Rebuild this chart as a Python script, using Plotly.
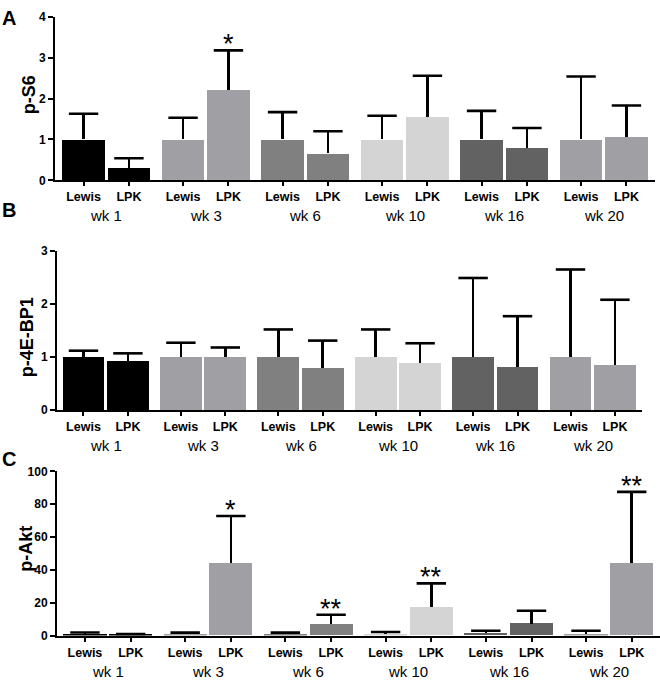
import plotly.graph_objects as go

W, H = 660, 687
FONT = "Liberation Sans, Arial, sans-serif"

weeks = ["wk 1", "wk 3", "wk 6", "wk 10", "wk 16", "wk 20"]
strains = ["Lewis", "LPK"]
week_colors = ["#000000", "#a0a0a4", "#808080", "#d4d4d4", "#626262", "#a0a0a4"]

# Panel A: p-S6 (mean, upper SEM)
ps6_lewis = [1.0, 1.0, 1.0, 1.0, 1.0, 1.0]
ps6_lewis_err = [0.63, 0.53, 0.67, 0.58, 0.70, 1.54]
ps6_lpk = [0.30, 2.22, 0.66, 1.56, 0.79, 1.06]
ps6_lpk_err = [0.24, 0.96, 0.54, 1.00, 0.49, 0.77]
ps6_lpk_sig = ["", "*", "", "", "", ""]

# Panel B: p-4E-BP1
bp1_lewis = [1.0, 1.0, 1.0, 1.0, 1.0, 1.0]
bp1_lewis_err = [0.12, 0.27, 0.52, 0.52, 1.49, 1.65]
bp1_lpk = [0.93, 1.0, 0.80, 0.88, 0.82, 0.85]
bp1_lpk_err = [0.14, 0.18, 0.51, 0.38, 0.95, 1.23]
bp1_lpk_sig = ["", "", "", "", "", ""]

# Panel C: p-Akt
akt_lewis = [1.0, 1.0, 1.0, 1.0, 1.5, 1.0]
akt_lewis_err = [0.9, 0.8, 0.8, 1.2, 1.5, 2.0]
akt_lpk = [0.5, 44.2, 7.0, 17.3, 7.2, 44.2]
akt_lpk_err = [0.4, 28.6, 5.7, 14.5, 7.9, 43.3]
akt_lpk_sig = ["", "*", "**", "**", "", "**"]

panels = [
    dict(letter="A", title="p-S6", lewis=ps6_lewis, lewis_err=ps6_lewis_err,
         lpk=ps6_lpk, lpk_err=ps6_lpk_err, sig=ps6_lpk_sig,
         yrange=[0, 4], ytick=[0, 1, 2, 3, 4],
         ypix=(10, 177), xpix=(55, 655), xr=[-0.515, 5.515],
         wk_y=213, title_xy=(29, 90), letter_xy=(9, 11)),
    dict(letter="B", title="p-4E-BP1", lewis=bp1_lewis, lewis_err=bp1_lewis_err,
         lpk=bp1_lpk, lpk_err=bp1_lpk_err, sig=bp1_lpk_sig,
         yrange=[0, 3], ytick=[0, 1, 2, 3],
         ypix=(249, 411.5), xpix=(57, 642), xr=[-0.5, 5.506],
         wk_y=448, title_xy=(27, 337), letter_xy=(9, 207)),
    dict(letter="C", title="p-Akt", lewis=akt_lewis, lewis_err=akt_lewis_err,
         lpk=akt_lpk, lpk_err=akt_lpk_err, sig=akt_lpk_sig,
         yrange=[0, 100], ytick=[0, 20, 40, 60, 80, 100],
         ypix=(474, 641.7), xpix=(57, 660), xr=[-0.507, 5.51],
         wk_y=678, title_xy=(26, 553), letter_xy=(9, 461)),
]

OFF = 0.228
BW = 0.43

fig = go.Figure()
annotations = []
layout = {}

for i, p in enumerate(panels):
    n = "" if i == 0 else str(i + 1)
    xs, ys, es, tops, cols, tv, tt = [], [], [], [], [], [], []
    for g in range(len(weeks)):
        for s, (m, e) in enumerate([(p["lewis"][g], p["lewis_err"][g]), (p["lpk"][g], p["lpk_err"][g])]):
            x = g + (-OFF if s == 0 else OFF)
            xs.append(x); ys.append(m); es.append(e); tops.append(m + e)
            cols.append(week_colors[g]); tv.append(x); tt.append(strains[s])
    fig.add_trace(go.Bar(
        x=xs, y=ys, width=BW, marker=dict(color=cols, line=dict(width=0)),
        error_y=dict(type="data", array=es, arrayminus=[0] * len(es), symmetric=False,
                     color="black", thickness=2.6, width=0),
        xaxis="x" + n, yaxis="y" + n, showlegend=False, hoverinfo="skip",
    ))
    # caps of the upper error bars
    fig.add_trace(go.Scatter(
        x=xs, y=tops, mode="markers",
        marker=dict(symbol="line-ew", size=21, color="black",
                    line=dict(width=2.6, color="black")),
        xaxis="x" + n, yaxis="y" + n, showlegend=False, hoverinfo="skip",
    ))
    y0, y1 = p["ypix"]
    layout["xaxis" + n] = dict(
        domain=[p["xpix"][0] / W, p["xpix"][1] / W], range=p["xr"], anchor="y" + n,
        tickmode="array", tickvals=tv, ticktext=tt, ticks="outside", ticklen=4,
        tickwidth=1.5, tickcolor="black", showline=True, linecolor="black", linewidth=2,
        showgrid=False, zeroline=False,
        tickfont=dict(family=FONT, size=12.5, color="black", weight="bold"),
    )
    layout["yaxis" + n] = dict(
        domain=[(H - y1) / H, (H - y0) / H], range=p["yrange"], anchor="x" + n,
        tickmode="array", tickvals=p["ytick"], ticks="outside", ticklen=5, tickwidth=1.5,
        tickcolor="black", showline=True, linecolor="black", linewidth=2,
        showgrid=False, zeroline=False,
        tickfont=dict(family=FONT, size=12, color="black", weight="bold"),
    )
    for g, wk in enumerate(weeks):
        annotations.append(dict(x=g, y=(H - p["wk_y"]) / H, xref="x" + n, yref="paper",
                                text=wk, showarrow=False, yanchor="middle",
                                font=dict(family=FONT, size=15, color="black")))
        if p["sig"][g]:
            annotations.append(dict(x=g + OFF, y=p["lpk"][g] + p["lpk_err"][g],
                                    xref="x" + n, yref="y" + n, text=p["sig"][g],
                                    showarrow=False, yanchor="bottom", yshift=-11,
                                    font=dict(family=FONT, size=27, color="black")))
    tx, ty = p["title_xy"]
    annotations.append(dict(x=tx / W, y=(H - ty) / H, xref="paper", yref="paper",
                            text=p["title"], textangle=-90, showarrow=False,
                            xanchor="center", yanchor="middle",
                            font=dict(family=FONT, size=18, color="black", weight="bold")))
    lx, ly = p["letter_xy"]
    annotations.append(dict(x=lx / W, y=(H - ly) / H, xref="paper", yref="paper",
                            text=p["letter"], showarrow=False,
                            xanchor="center", yanchor="middle",
                            font=dict(family=FONT, size=20, color="black", weight="bold")))

fig.update_layout(
    width=W, height=H, margin=dict(l=0, r=0, t=0, b=0),
    paper_bgcolor="white", plot_bgcolor="white",
    annotations=annotations, bargap=0, **layout,
)

fig.write_html("out.html", config={"displayModeBar": False},
               post_script="document.body.style.margin='0px';")
